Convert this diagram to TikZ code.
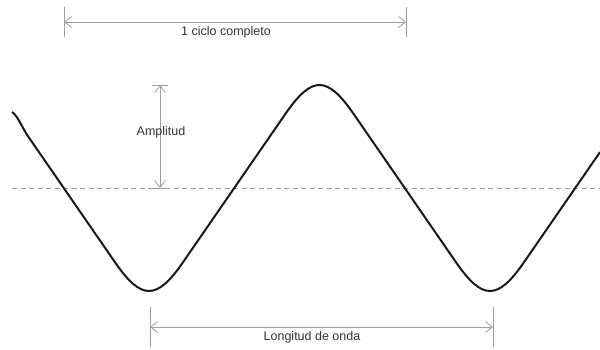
\documentclass[tikz,border=0pt]{standalone}
\usepackage{fontspec}
\setmainfont{Liberation Sans}
\usetikzlibrary{arrows.meta}
\begin{document}
\begin{tikzpicture}[x=1pt,y=-1pt,
  dim/.style={draw=gray!75, line width=0.8pt},
  dimarrow/.style={dim, {Straight Barb[length=7pt,width=11pt]}-{Straight Barb[length=7pt,width=11pt]}},
  lbl/.style={font=\fontsize{12.5}{14}\selectfont, text=black!80, inner sep=0pt, anchor=base},
  wave/.style={line width=2pt, black!90, line join=round},
  axis/.style={draw=gray!80, line width=0.8pt, dash pattern=on 5pt off 3.5pt}
]
\useasboundingbox (0,0) rectangle (600,349);
% axis
\coordinate (axL) at (12,188);
\coordinate (axR) at (600,188);
\draw[axis] (axL) -- (axR);
% wave (rounded triangle)
\coordinate (w0) at (12,112);
\coordinate (w1) at (28,136.2);
\draw[wave] (w0) .. controls (17,114.5) and (22.5,128.2) .. (w1)
  -- (114.9,262.1) .. controls (141.43,300.61) and (156.57,300.61) .. (183.1,262.1)
  -- (285.4,113.9) .. controls (311.93,75.39) and (327.07,75.39) .. (353.6,113.9)
  -- (455.9,262.1) .. controls (482.43,300.61) and (497.57,300.61) .. (524.1,262.1)
  -- (600,152.1);
% 1 ciclo completo
\coordinate (c1t) at (64,7);
\coordinate (c1b) at (64,37);
\coordinate (c2t) at (406,7);
\coordinate (c2b) at (406,37);
\coordinate (c1) at (64,22);
\coordinate (c2) at (406,22);
\draw[dim] (c1t) -- (c1b);
\draw[dim] (c2t) -- (c2b);
\draw[dimarrow] (c1) -- (c2);
\node[lbl] (ciclo) at (226,35) {1 ciclo completo};
% Amplitud
\coordinate (atl) at (152,85);
\coordinate (atr) at (168,85);
\coordinate (abl) at (153,188);
\coordinate (abr) at (168,188);
\coordinate (at) at (160,85);
\coordinate (ab) at (160,188);
\draw[dim] (atl) -- (atr);
\draw[dim] (abl) -- (abr);
\draw[dimarrow] (at) -- (ab);
\node[lbl] (amp) at (161,135.5) {Amplitud};
% Longitud de onda
\coordinate (l1t) at (150,307);
\coordinate (l1b) at (150,347);
\coordinate (l2t) at (493,307);
\coordinate (l2b) at (493,347);
\coordinate (l1) at (150,327);
\coordinate (l2) at (493,327);
\draw[dim] (l1t) -- (l1b);
\draw[dim] (l2t) -- (l2b);
\draw[dimarrow] (l1) -- (l2);
\node[lbl] (lon) at (312,340.5) {Longitud de onda};
\end{tikzpicture}
\end{document}
